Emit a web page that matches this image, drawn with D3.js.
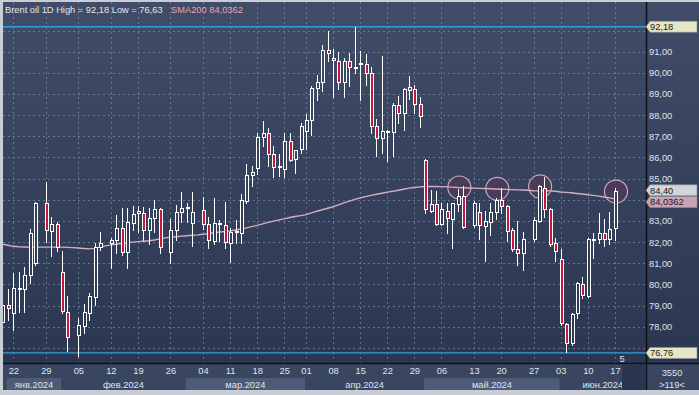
<!DOCTYPE html>
<html>
<head>
<meta charset="utf-8">
<script src="https://cdn.jsdelivr.net/npm/d3@7"></script>
<style>
html, body { margin: 0; padding: 0; background: #c9ced6; }
svg { display: block; font-family: "Liberation Sans", Arial, sans-serif; }
</style>
</head>
<body>
<div id="chart"></div>
<script>
const W = 699, H = 395;

// one entry per bar slot, null = empty slot on the chart
const opens = [
  78.2, 79.03, 78.66, 79.8, 79.77, 80.43, 81.0, null,
  83.84, 82.54, 82.86, 80.57, 78.71, null,
  77.6, 78.05, 78.66, 79.42, 81.79, null,
  81.95, 82.1, 82.65, 81.55, 82.92,
  83.48, 83.37, 82.58, 83.13, 83.56, null,
  81.52, 82.58, 83.41, 83.6, 82.89, null,
  83.5, 82.86, 82.07, 82.87, 82.81,
  81.98, 82.48, 82.42, 83.92, 85.19,
  85.5, 86.96, 87.18, 86.16, 85.55,
  85.45, 86.76, 85.92, 86.4,
  87.23, 87.78, 89.28, 89.57, 91.06,
  90.7, 90.54, 89.57, 90.54, 90.28,
  90.4, 90.42, 89.99, 87.51, 86.92,
  87.2, 87.2, 88.46, 88.1, 89.31,
  89.25, 88.52, 85.86, 83.49, 83.81,
  82.85, 83.49, 83.1, 83.81, 84.2, null,
  82.81, 83.44, 82.77, 82.97, 83.44,
  84.0, 83.71, 82.58, 81.66, 81.47, null,
  82.13, 83.02, 84.58, 83.56, 81.95,
  81.19, 78.13, 77.24, 78.63, 80.02,
  79.47, 82.1, 82.13, 82.45, 82.13,
  82.66
];
const highs = [
  79.1, 79.77, 80.56, 80.6, 80.81, 82.62, 83.9, null,
  84.83, 83.2, 82.95, 81.6, 79.45, null,
  78.4, 79.07, 79.61, 81.95, 82.5, null,
  82.18, 83.29, 83.6, 83.6, 83.71,
  83.71, 83.68, 83.6, 84.0, 83.6, null,
  83.08, 83.76, 84.36, 83.87, 84.36, null,
  84.15, 83.2, 84.08, 83.05, 83.89,
  82.66, 83.05, 84.28, 85.7, 85.6,
  87.18, 87.73, 87.39, 86.52, 86.17,
  87.15, 87.15, 86.36, 87.63,
  88.05, 89.36, 89.91, 91.33, 91.96,
  91.13, 90.99, 90.7, 90.94, 92.18,
  91.01, 90.9, 90.3, 87.83, 90.81,
  87.31, 88.57, 88.92, 89.28, 89.86,
  89.44, 88.86, 85.92, 84.47, 84.42,
  83.84, 83.87, 83.87, 84.5, 84.66, null,
  83.92, 83.87, 83.47, 83.84, 84.08,
  84.55, 83.76, 82.66, 83.0, 82.5, null,
  83.2, 84.71, 85.1, 83.6, 82.18,
  81.66, 78.19, 78.66, 80.13, 80.37,
  82.18, 82.42, 83.37, 83.1, 83.4,
  84.55
];
const lows = [
  77.9, 78.32, 77.84, 78.71, 78.71, 80.08, 80.92, null,
  82.02, 81.35, 81.6, 78.63, 76.86, null,
  76.63, 77.69, 78.32, 79.03, 81.63, null,
  80.76, 81.48, 81.39, 80.76, 82.58,
  82.5, 82.1, 81.9, 82.5, 81.48, null,
  81.03, 82.1, 82.97, 82.97, 81.83, null,
  82.6, 81.74, 81.9, 82.05, 81.74,
  81.08, 81.98, 81.98, 83.87, 84.63,
  85.23, 86.52, 85.62, 85.07, 85.13,
  85.1, 85.81, 85.26, 86.23,
  86.4, 87.07, 88.73, 89.12, 90.54,
  88.84, 89.24, 88.84, 89.39, 89.99,
  88.73, 89.44, 87.15, 86.08, 86.2,
  85.81, 86.05, 87.65, 87.31, 88.78,
  88.1, 87.46, 83.37, 83.44, 82.81,
  82.81, 82.42, 81.74, 83.49, 82.66, null,
  82.7, 82.13, 81.11, 82.34, 83.08,
  83.37, 82.05, 81.58, 80.92, 80.68, null,
  82.07, 82.97, 83.2, 81.82, 81.12,
  78.08, 76.82, 77.13, 78.4, 79.34,
  79.42, 81.24, 81.95, 81.82, 81.9,
  82.1
];
const closes = [
  79.03, 78.87, 79.82, 79.85, 80.43, 82.42, 83.84, null,
  82.58, 82.86, 81.76, 78.76, 77.5, null,
  78.08, 78.71, 79.47, 81.79, 81.98, null,
  82.1, 82.65, 81.55, 82.97, 83.32,
  83.37, 82.58, 83.13, 83.56, 81.76, null,
  82.58, 83.41, 83.6, 83.66, 83.41, null,
  82.86, 82.1, 82.89, 82.92, 82.02,
  82.47, 82.52, 84.0, 85.19, 85.32,
  86.96, 87.18, 86.17, 85.54, 85.6,
  86.76, 85.86, 86.33, 87.51,
  87.78, 89.28, 89.57, 91.06, 90.94,
  90.6, 89.57, 90.54, 90.28, 90.24,
  90.45, 89.99, 87.51, 86.92, 87.26,
  87.25, 88.46, 88.1, 89.25, 89.2,
  88.54, 87.94, 83.57, 83.81, 82.85,
  83.57, 83.13, 83.84, 84.2, 82.73, null,
  83.87, 82.81, 83.0, 83.44, 84.0,
  83.71, 82.54, 81.66, 81.47, 82.13, null,
  83.05, 84.66, 83.56, 81.9, 81.58,
  78.16, 77.21, 78.6, 80.08, 79.5,
  82.13, 82.16, 82.42, 82.13, 82.61,
  84.40
];
const sma200 = [
  81.90, 81.85, 81.80, 81.78, 81.77, 81.76, 81.76, 81.76,
  81.76, 81.76, 81.76, 81.76, 81.75, 81.74,
  81.72, 81.70, 81.68, 81.70, 81.76, 81.82,
  81.87, 81.90, 81.94, 81.97, 82.00,
  82.02, 82.04, 82.06, 82.10, 82.15, 82.20,
  82.23, 82.25, 82.28, 82.30, 82.32, 82.34,
  82.37, 82.40, 82.44, 82.47, 82.50,
  82.53, 82.57, 82.62, 82.67, 82.73,
  82.79, 82.86, 82.93, 82.99, 83.05,
  83.10, 83.16, 83.21, 83.25,
  83.30, 83.38, 83.46, 83.53, 83.60,
  83.67, 83.76, 83.85, 83.94, 84.02,
  84.09, 84.15, 84.21, 84.26, 84.31,
  84.36, 84.40, 84.45, 84.50, 84.55,
  84.58, 84.61, 84.63, 84.63, 84.63,
  84.62, 84.61, 84.60, 84.58, 84.57, 84.56,
  84.55, 84.54, 84.53, 84.52, 84.51,
  84.50, 84.49, 84.48, 84.47, 84.46, 84.45,
  84.43, 84.42, 84.44, 84.42, 84.40,
  84.37, 84.35, 84.33, 84.30, 84.27,
  84.24, 84.21, 84.17, 84.13, 84.09,
  84.04
];

// day labels: [slot, text]
const dayTicks = [
  [2, '22'], [8, '29'], [14, '05'], [20, '12'], [25, '19'], [31, '26'],
  [37, '04'], [42, '11'], [47, '18'], [52, '25'], [56, '01'], [61, '08'],
  [66, '15'], [71, '22'], [76, '29'], [81, '06'], [87, '13'], [92, '20'],
  [98, '27'], [103, '03'], [108, '10'], [113, '17']
];
// month bands: [first slot, label]
const months = [
  [1, 'янв.2024'], [11, 'фев.2024'], [34, 'мар.2024'],
  [56, 'апр.2024'], [78, 'май.2024'], [103, 'июн.2024']
];
const priceTicks = [77, 78, 79, 80, 81, 82, 83, 84, 85, 86, 87, 88, 89, 90, 91, 92];
const highLine = 92.18, lowLine = 76.76;
const smaLast = 84.0362;
// circled spots: [slot, price]
const marks = [[84.3, 84.58], [91.3, 84.52], [99.2, 84.63], [113.2, 84.39]];

// layout
const plotL = 3, plotR = 646, plotT = 2, plotB = 363, panelB = 390;

const svg = d3.select('#chart').append('svg')
  .attr('width', W).attr('height', H);

const defs = svg.append('defs');
const grad = defs.append('linearGradient').attr('id', 'bg')
  .attr('gradientUnits', 'userSpaceOnUse')
  .attr('x1', 0).attr('y1', plotT).attr('x2', 0).attr('y2', plotB);
grad.append('stop').attr('offset', '0%').attr('stop-color', '#414d68');
grad.append('stop').attr('offset', '100%').attr('stop-color', '#2b3651');
defs.append('clipPath').attr('id', 'plotclip').append('rect')
  .attr('x', plotL).attr('y', plotT).attr('width', plotR - plotL).attr('height', plotB - plotT);

const x = d3.scaleLinear().domain([2, 113]).range([13.3, 614.9]);
const y = d3.scaleLinear().domain([91, 78]).range([51.7, 326.7]);

// panel backgrounds
svg.append('rect').attr('x', plotL).attr('y', plotT)
  .attr('width', W - plotL).attr('height', plotB - plotT).attr('fill', 'url(#bg)');
svg.append('rect').attr('x', plotL).attr('y', plotB)
  .attr('width', W - plotL).attr('height', panelB - plotB).attr('fill', '#3a4660');

// grid
const grid = svg.append('g').attr('stroke', '#7483a0').attr('stroke-dasharray', '2,3')
  .attr('stroke-width', 1).attr('opacity', 0.8);
grid.selectAll('line.h').data(priceTicks).enter().append('line')
  .attr('x1', plotL).attr('x2', plotR)
  .attr('y1', d => Math.round(y(d)) + 0.5).attr('y2', d => Math.round(y(d)) + 0.5);
grid.selectAll('line.v').data(dayTicks).enter().append('line')
  .attr('y1', plotT).attr('y2', plotB)
  .attr('x1', d => Math.round(x(d[0])) + 0.5).attr('x2', d => Math.round(x(d[0])) + 0.5);

// blue high / low lines
svg.selectAll('line.hl').data([highLine, lowLine]).enter().append('line')
  .attr('x1', plotL).attr('x2', plotR)
  .attr('y1', d => y(d)).attr('y2', d => y(d))
  .attr('stroke', '#2ea2dc').attr('stroke-width', 1.3);

const plot = svg.append('g').attr('clip-path', 'url(#plotclip)');

// circles
plot.selectAll('circle').data(marks).enter().append('circle')
  .attr('cx', d => x(d[0])).attr('cy', d => y(d[1])).attr('r', 11.5)
  .attr('fill', '#4d3c58').attr('fill-opacity', 0.9)
  .attr('stroke', '#c9a9bb').attr('stroke-width', 1.2);

// SMA line
const smaLine = d3.line().x((d, i) => x(i)).y(d => y(d));
plot.append('path').datum(sma200).attr('d', smaLine)
  .attr('fill', 'none').attr('stroke', '#d4aec0').attr('stroke-width', 1.4);

// candles
const candles = opens.map((o, i) => ({ i, o, h: highs[i], l: lows[i], c: closes[i] }))
  .filter(d => d.o != null);

const cg = plot.append('g').attr('shape-rendering', 'crispEdges');
candles.forEach(d => {
  const px = Math.round(x(d.i));
  const top = Math.round(y(Math.max(d.o, d.c)));
  const bot = Math.round(y(Math.min(d.o, d.c)));
  const yh = Math.round(y(d.h)), yl = Math.round(y(d.l));
  cg.append('rect').attr('x', px).attr('y', yh).attr('width', 1).attr('height', Math.max(1, yl - yh + 1))
    .attr('fill', '#ffffff');
  cg.append('rect').attr('x', px - 1).attr('y', top).attr('width', 4).attr('height', bot - top + 1)
    .attr('fill', '#ffffff');
  if (bot - top > 1) {
    cg.append('rect').attr('x', px).attr('y', top + 1).attr('width', 2).attr('height', bot - top - 1)
      .attr('fill', d.c < d.o ? '#c8173f' : 'url(#bg)');
  }
});

// separators
svg.append('line').attr('x1', plotR + 0.5).attr('x2', plotR + 0.5).attr('y1', plotT).attr('y2', panelB)
  .attr('stroke', '#0d1018').attr('stroke-width', 1.5);
svg.append('line').attr('x1', plotL).attr('x2', W).attr('y1', plotB + 0.5).attr('y2', plotB + 0.5)
  .attr('stroke', '#0d1018').attr('stroke-width', 1.5);

// price axis (labels hidden where a price flag covers them)
const lastClose = closes[closes.length - 1];
const flagged = [highLine, lowLine, smaLast, lastClose];
const fmt = v => v.toFixed(2).replace('.', ',');
const shownTicks = priceTicks.filter(t => flagged.every(f => Math.abs(y(t) - y(f)) > 9));
svg.append('g').attr('transform', `translate(${plotR},0)`)
  .call(d3.axisRight(y).tickValues(shownTicks).tickSize(0).tickPadding(3).tickFormat(fmt))
  .call(g => g.select('.domain').remove())
  .attr('font-family', '"Liberation Sans", Arial, sans-serif').attr('font-size', 9.3)
  .selectAll('text').attr('fill', '#dfe4ee');

// price flags; shift nudges a flag off one it would hide
function flag(v, label, fill, textFill, shift) {
  const cy = y(v) + (shift || 0);
  const g = svg.append('g');
  g.append('path')
    .attr('d', `M${plotR},${cy} L${plotR + 4},${cy - 5.5} L${W - 2},${cy - 5.5} L${W - 2},${cy + 5.5} L${plotR + 4},${cy + 5.5} Z`)
    .attr('fill', fill).attr('stroke', '#8a8f99').attr('stroke-width', 0.6);
  g.append('text').attr('x', plotR + 4).attr('y', cy).attr('dy', '0.35em')
    .attr('font-size', 9.3).attr('fill', textFill).text(label);
}
flag(highLine, fmt(highLine), '#e6e6c4', '#1a1a1a');
flag(lowLine, fmt(lowLine), '#e6e6c4', '#1a1a1a');
flag(smaLast, '84,0362', '#c9a3b5', '#1a1a1a', 3);
flag(lastClose, fmt(lastClose), '#d2d5da', '#1a1a1a', -1);

// month bands
const lastX = x(closes.length - 1) + 7;
months.forEach((m, k) => {
  const x0 = x(m[0]) - 1;
  const x1 = k < months.length - 1 ? x(months[k + 1][0]) - 1 : plotR;
  svg.append('rect').attr('x', x0).attr('y', 378).attr('width', x1 - x0).attr('height', panelB - 378)
    .attr('fill', k % 2 === 0 ? '#4e5b76' : '#3a4660');
  svg.append('text').attr('x', (x0 + x1) / 2).attr('y', 387.5).attr('text-anchor', 'middle')
    .attr('font-size', 9.3).attr('fill', '#dfe4ee').text(m[1]);
});
svg.append('rect').attr('x', lastX).attr('y', plotB + 1).attr('width', plotR - lastX).attr('height', panelB - plotB - 1)
  .attr('fill', '#2a3550');

// day axis
const dayLabel = new Map(dayTicks);
svg.append('g').attr('transform', `translate(0,${plotB + 1})`)
  .call(d3.axisBottom(x).tickValues(dayTicks.map(d => d[0])).tickSize(0).tickPadding(3)
    .tickFormat(s => dayLabel.get(s)))
  .call(g => g.select('.domain').remove())
  .attr('font-family', '"Liberation Sans", Arial, sans-serif').attr('font-size', 9.3)
  .selectAll('text').attr('fill', '#dfe4ee');

// corner box
svg.append('text').attr('x', 672).attr('y', 376).attr('text-anchor', 'middle')
  .attr('font-size', 9.3).attr('fill', '#dfe4ee').text('3550');
svg.append('text').attr('x', 672).attr('y', 387.5).attr('text-anchor', 'middle')
  .attr('font-size', 9.3).attr('fill', '#dfe4ee').text('>119<');
svg.append('text').attr('x', 622).attr('y', 362).attr('text-anchor', 'middle')
  .attr('font-size', 9.3).attr('fill', '#dfe4ee').text('5');

// title
const title = svg.append('text').attr('x', 5).attr('y', 13).attr('font-size', 9.3);
title.append('tspan').attr('fill', '#e2e6ee').text('Brent oil 1D High = 92,18 Low = 76,63');
title.append('tspan').attr('x', 171).attr('fill', '#e6a2b6').text('SMA200 84,0362');
</script>
</body>
</html>
